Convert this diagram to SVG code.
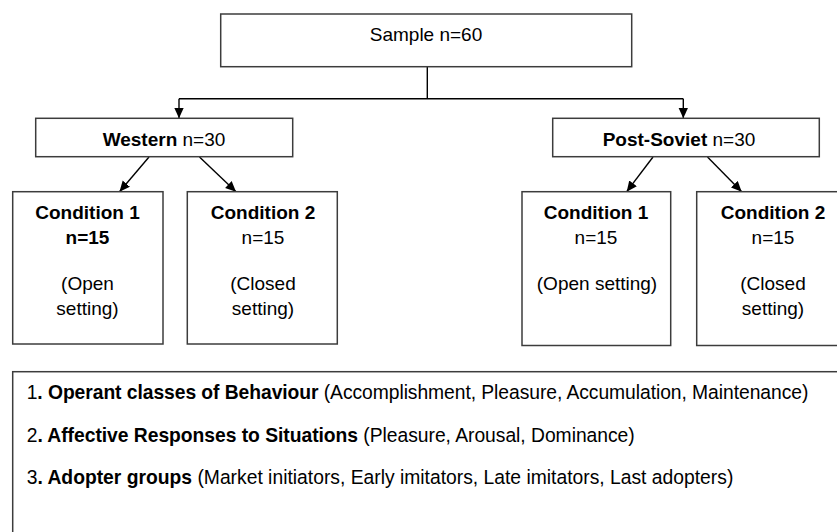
<svg xmlns="http://www.w3.org/2000/svg" width="837" height="532" viewBox="0 0 837 532">
  <style>
    .box { fill: #ffffff; stroke: #3c3c3c; stroke-width: 1.5; }
    .wire { fill: none; stroke: #000000; stroke-width: 1.4; }
    .t { font-family: "Liberation Sans", Arial, sans-serif; font-size: 19px; fill: #000000; }
    .c { text-anchor: middle; }
    .b { font-weight: bold; }
    .lg { font-family: "Liberation Sans", Arial, sans-serif; font-size: 19.3px; fill: #000000; }
  </style>
  <defs>
    <marker id="head" markerUnits="userSpaceOnUse" markerWidth="11" markerHeight="10" refX="10.5" refY="4.75" orient="auto">
      <path d="M0,0 L10.5,4.75 L0,9.5 Z" fill="#000000"/>
    </marker>
  </defs>

  <rect width="837" height="532" fill="#ffffff"/>

  <!-- connectors -->
  <g id="connectors">
    <path class="wire" d="M427.3,67 V98.7"/>
    <path class="wire" d="M179,98.7 H683.3"/>
    <path class="wire" d="M179,98.7 V118.3" marker-end="url(#head)"/>
    <path class="wire" d="M683.3,98.7 V118.3" marker-end="url(#head)"/>
    <path class="wire" d="M149,157 L119.5,191.7" marker-end="url(#head)"/>
    <path class="wire" d="M199.5,157 L236,191.7" marker-end="url(#head)"/>
    <path class="wire" d="M653,157 L626.7,191.7" marker-end="url(#head)"/>
    <path class="wire" d="M707.5,157 L741.7,191.7" marker-end="url(#head)"/>
  </g>

  <!-- total sample -->
  <g id="sample">
    <rect class="box" x="220.7" y="14" width="411" height="52.7"/>
    <text class="t c" x="426" y="41">Sample n=60</text>
  </g>

  <!-- groups -->
  <g id="western">
    <rect class="box" x="35.7" y="118.3" width="257" height="38.4"/>
    <text class="t c" x="164" y="145.5"><tspan class="b">Western</tspan> n=30</text>
  </g>
  <g id="post-soviet">
    <rect class="box" x="552.7" y="118.3" width="266.6" height="38.4"/>
    <text class="t c" x="679" y="145.5"><tspan class="b">Post-Soviet</tspan> n=30</text>
  </g>

  <!-- conditions -->
  <g id="western-condition-1">
    <rect class="box" x="12.7" y="191.7" width="150.3" height="152.3"/>
    <text class="t c b" x="87.5" y="219">Condition 1</text>
    <text class="t c b" x="87.5" y="243.5">n=15</text>
    <text class="t c" x="87.5" y="289.5">(Open</text>
    <text class="t c" x="87.5" y="314.5">setting)</text>
  </g>
  <g id="western-condition-2">
    <rect class="box" x="187.3" y="191.7" width="150" height="152.3"/>
    <text class="t c b" x="263" y="219">Condition 2</text>
    <text class="t c" x="263" y="243.5">n=15</text>
    <text class="t c" x="263" y="289.5">(Closed</text>
    <text class="t c" x="263" y="314.5">setting)</text>
  </g>
  <g id="post-soviet-condition-1">
    <rect class="box" x="522" y="191.7" width="148.7" height="153.8"/>
    <text class="t c b" x="596" y="219">Condition 1</text>
    <text class="t c" x="596" y="243.5">n=15</text>
    <text class="t c" x="597" y="289.5">(Open setting)</text>
  </g>
  <g id="post-soviet-condition-2">
    <rect class="box" x="696.7" y="191.7" width="152" height="153.8"/>
    <text class="t c b" x="773" y="219">Condition 2</text>
    <text class="t c" x="773" y="243.5">n=15</text>
    <text class="t c" x="773" y="289.5">(Closed</text>
    <text class="t c" x="773" y="314.5">setting)</text>
  </g>

  <!-- measures legend -->
  <g id="measures">
    <rect class="box" x="12.7" y="371.7" width="850" height="200"/>
    <text class="lg" x="26.7" y="398.5" textLength="781.6" lengthAdjust="spacing"><tspan>1</tspan><tspan class="b">. Operant classes of Behaviour</tspan> (Accomplishment, Pleasure, Accumulation, Maintenance)</text>
    <text class="lg" x="26.7" y="441.5" textLength="608" lengthAdjust="spacing"><tspan>2</tspan><tspan class="b">. Affective Responses to Situations</tspan> (Pleasure, Arousal, Dominance)</text>
    <text class="lg" x="26.7" y="484" textLength="706.6" lengthAdjust="spacing"><tspan>3</tspan><tspan class="b">. Adopter groups</tspan> (Market initiators, Early imitators, Late imitators, Last adopters)</text>
  </g>
</svg>
